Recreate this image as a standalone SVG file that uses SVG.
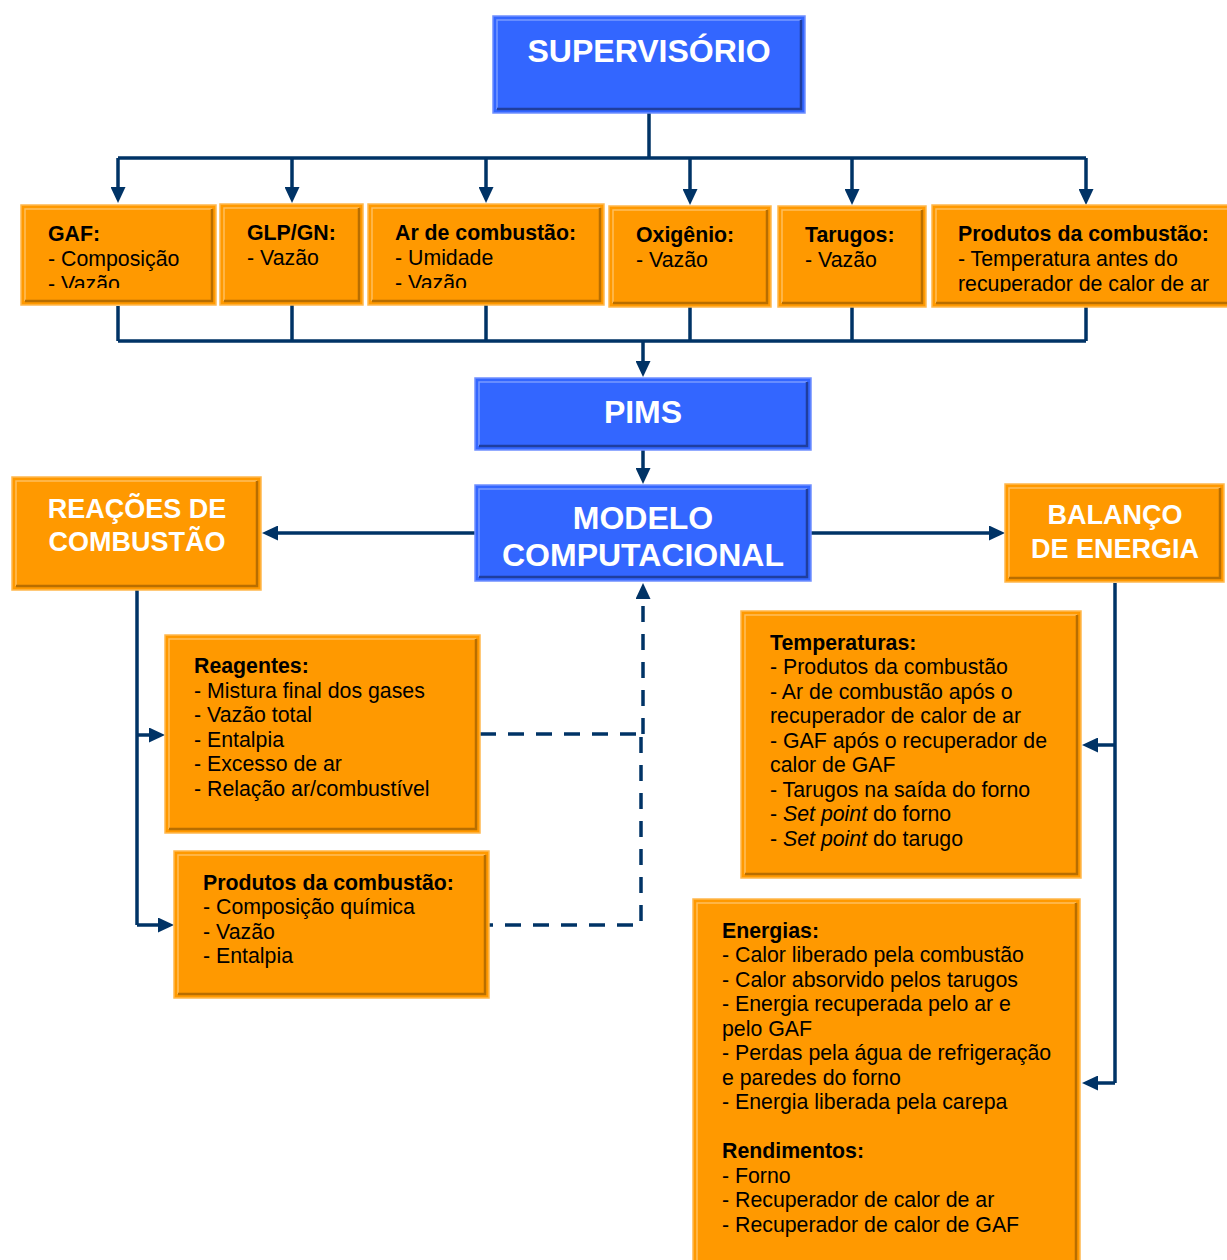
<svg xmlns="http://www.w3.org/2000/svg" width="1227" height="1260" viewBox="0 0 1227 1260">
<style>
.bg{fill:#ffffff}
.o{fill:#FF9900;stroke:#FFB84D;stroke-width:1.5}
.ol{fill:none;stroke:#FFBE5C;stroke-width:1.5}
.od{fill:none;stroke:#B86E00;stroke-width:2.5}
.u{fill:#3366FF;stroke:#7090FF;stroke-width:1.5}
.ul{fill:none;stroke:#7A9BFF;stroke-width:1.5}
.ud{fill:none;stroke:#1F3E9E;stroke-width:2.5}
.t{font-family:"Liberation Sans",Arial,Helvetica,sans-serif;font-size:21.3px;fill:#000000}
.b{font-weight:bold}
.w{font-family:"Liberation Sans",Arial,Helvetica,sans-serif;font-weight:bold;fill:#ffffff;text-anchor:middle}
.c{fill:none;stroke:#003366;stroke-width:3.5}
.d{fill:none;stroke:#003366;stroke-width:3.5;stroke-dasharray:16 12}
</style>
<defs>
<marker id="ah" markerWidth="16" markerHeight="15" refX="7" refY="7.5" orient="auto" markerUnits="userSpaceOnUse">
<path d="M0,0 L16,7.5 L0,15 z" fill="#003366"/>
</marker>
<clipPath id="clipTop"><rect x="0" y="200" width="1227" height="88"/></clipPath>
<clipPath id="clipTop2"><rect x="0" y="200" width="1227" height="92"/></clipPath>
</defs>
<rect class="bg" x="0" y="0" width="1227" height="1260"/>

<g id="connectors">
<path class="c" d="M649,113 V158 M118,158 H1086"/>
<path class="c" marker-end="url(#ah)" d="M118,158 V194"/>
<path class="c" marker-end="url(#ah)" d="M292,158 V194"/>
<path class="c" marker-end="url(#ah)" d="M486,158 V194"/>
<path class="c" marker-end="url(#ah)" d="M690,158 V196"/>
<path class="c" marker-end="url(#ah)" d="M852,158 V196"/>
<path class="c" marker-end="url(#ah)" d="M1086,158 V196"/>
<path class="c" d="M118,306 V341 M292,305 V341 M486,305 V341 M690,307 V341 M852,307 V341 M1086,307 V341 M118,341 H1086"/>
<path class="c" marker-end="url(#ah)" d="M643,341 V368"/>
<path class="c" marker-end="url(#ah)" d="M643,450 V475"/>
<path class="c" marker-end="url(#ah)" d="M475,533 H271"/>
<path class="c" marker-end="url(#ah)" d="M811,533 H996"/>
<path class="c" d="M137,590 V925"/>
<path class="c" marker-end="url(#ah)" d="M137,735 H156"/>
<path class="c" marker-end="url(#ah)" d="M137,925 H165"/>
<path class="c" d="M1115,583 V1083"/>
<path class="c" marker-end="url(#ah)" d="M1115,745 H1091"/>
<path class="c" marker-end="url(#ah)" d="M1115,1083 H1091"/>
<path class="d" d="M480,734 H641"/>
<path class="d" marker-end="url(#ah)" d="M643,734 V592"/>
<path class="d" d="M641,737 V925 H489"/>
</g>

<g id="supervisorio">
<rect class="u" x="493" y="16" width="312" height="97"/>
<polyline class="ul" points="497,109 497,20 801,20"/>
<polyline class="ud" points="801,20 801,109 497,109"/>
<text class="w" x="649" y="62" font-size="32">SUPERVISÓRIO</text>
</g>

<g id="gaf">
<rect class="o" x="21" y="205" width="195" height="100"/>
<polyline class="ol" points="25,301 25,209 212,209"/>
<polyline class="od" points="212,209 212,301 25,301"/>
<text class="t" clip-path="url(#clipTop)"><tspan class="b" x="48" y="241">GAF:</tspan><tspan x="48" y="266">- Composição</tspan><tspan x="48" y="291">- Vazão</tspan></text>
</g>

<g id="glp">
<rect class="o" x="220" y="204" width="143" height="101"/>
<polyline class="ol" points="224,301 224,208 359,208"/>
<polyline class="od" points="359,208 359,301 224,301"/>
<text class="t"><tspan class="b" x="247" y="240">GLP/GN:</tspan><tspan x="247" y="265">- Vazão</tspan></text>
</g>

<g id="ar">
<rect class="o" x="368" y="204" width="236" height="101"/>
<polyline class="ol" points="372,301 372,208 600,208"/>
<polyline class="od" points="600,208 600,301 372,301"/>
<text class="t" clip-path="url(#clipTop)"><tspan class="b" x="395" y="240">Ar de combustão:</tspan><tspan x="395" y="265">- Umidade</tspan><tspan x="395" y="290">- Vazão</tspan></text>
</g>

<g id="oxigenio">
<rect class="o" x="609" y="206" width="162" height="101"/>
<polyline class="ol" points="613,303 613,210 767,210"/>
<polyline class="od" points="767,210 767,303 613,303"/>
<text class="t"><tspan class="b" x="636" y="242">Oxigênio:</tspan><tspan x="636" y="267">- Vazão</tspan></text>
</g>

<g id="tarugos">
<rect class="o" x="778" y="206" width="148" height="101"/>
<polyline class="ol" points="782,303 782,210 922,210"/>
<polyline class="od" points="922,210 922,303 782,303"/>
<text class="t"><tspan class="b" x="805" y="242">Tarugos:</tspan><tspan x="805" y="267">- Vazão</tspan></text>
</g>

<g id="produtos-top">
<rect class="o" x="932" y="205" width="300" height="102"/>
<polyline class="ol" points="936,303 936,209 1232,209"/>
<polyline class="od" points="936,303 1232,303"/>
<text class="t" clip-path="url(#clipTop2)"><tspan class="b" x="958" y="241">Produtos da combustão:</tspan><tspan x="958" y="266">- Temperatura antes do</tspan><tspan x="958" y="291">recuperador de calor de ar</tspan></text>
</g>

<g id="pims">
<rect class="u" x="475" y="378" width="336" height="72"/>
<polyline class="ul" points="479,446 479,382 807,382"/>
<polyline class="ud" points="807,382 807,446 479,446"/>
<text class="w" x="643" y="423" font-size="32">PIMS</text>
</g>

<g id="modelo">
<rect class="u" x="475" y="485" width="336" height="96"/>
<polyline class="ul" points="479,577 479,489 807,489"/>
<polyline class="ud" points="807,489 807,577 479,577"/>
<text class="w" font-size="32"><tspan x="643" y="529">MODELO</tspan><tspan x="643" y="566">COMPUTACIONAL</tspan></text>
</g>

<g id="reacoes">
<rect class="o" x="12" y="477" width="249" height="113"/>
<polyline class="ol" points="16,586 16,481 257,481"/>
<polyline class="od" points="257,481 257,586 16,586"/>
<text class="w" font-size="27"><tspan x="137" y="518">REAÇÕES DE</tspan><tspan x="137" y="551">COMBUSTÃO</tspan></text>
</g>

<g id="balanco">
<rect class="o" x="1005" y="484" width="219" height="98"/>
<polyline class="ol" points="1009,578 1009,488 1220,488"/>
<polyline class="od" points="1220,488 1220,578 1009,578"/>
<text class="w" font-size="27"><tspan x="1115" y="524">BALANÇO</tspan><tspan x="1115" y="558">DE ENERGIA</tspan></text>
</g>

<g id="reagentes">
<rect class="o" x="165" y="635" width="315" height="198"/>
<polyline class="ol" points="169,829 169,639 476,639"/>
<polyline class="od" points="476,639 476,829 169,829"/>
<text class="t"><tspan class="b" x="194" y="673">Reagentes:</tspan><tspan x="194" y="698">- Mistura final dos gases</tspan><tspan x="194" y="722">- Vazão total</tspan><tspan x="194" y="747">- Entalpia</tspan><tspan x="194" y="771">- Excesso de ar</tspan><tspan x="194" y="796">- Relação ar/combustível</tspan></text>
</g>

<g id="produtos-comb">
<rect class="o" x="174" y="851" width="315" height="147"/>
<polyline class="ol" points="178,994 178,855 485,855"/>
<polyline class="od" points="485,855 485,994 178,994"/>
<text class="t"><tspan class="b" x="203" y="890">Produtos da combustão:</tspan><tspan x="203" y="914">- Composição química</tspan><tspan x="203" y="939">- Vazão</tspan><tspan x="203" y="963">- Entalpia</tspan></text>
</g>

<g id="temperaturas">
<rect class="o" x="741" y="611" width="340" height="267"/>
<polyline class="ol" points="745,874 745,615 1077,615"/>
<polyline class="od" points="1077,615 1077,874 745,874"/>
<text class="t"><tspan class="b" x="770" y="650">Temperaturas:</tspan><tspan x="770" y="674">- Produtos da combustão</tspan><tspan x="770" y="699">- Ar de combustão após o</tspan><tspan x="770" y="723">recuperador de calor de ar</tspan><tspan x="770" y="748">- GAF após o recuperador de</tspan><tspan x="770" y="772">calor de GAF</tspan><tspan x="770" y="797">- Tarugos na saída do forno</tspan><tspan x="770" y="821">- <tspan font-style="italic">Set point</tspan> do forno</tspan><tspan x="770" y="846">- <tspan font-style="italic">Set point</tspan> do tarugo</tspan></text>
</g>

<g id="energias">
<rect class="o" x="693" y="899" width="387" height="370"/>
<polyline class="ol" points="697,1265 697,903 1076,903"/>
<polyline class="od" points="1076,903 1076,1265"/>
<text class="t"><tspan class="b" x="722" y="938">Energias:</tspan><tspan x="722" y="962">- Calor liberado pela combustão</tspan><tspan x="722" y="987">- Calor absorvido pelos tarugos</tspan><tspan x="722" y="1011">- Energia recuperada pelo ar e</tspan><tspan x="722" y="1036">pelo GAF</tspan><tspan x="722" y="1060">- Perdas pela água de refrigeração</tspan><tspan x="722" y="1085">e paredes do forno</tspan><tspan x="722" y="1109">- Energia liberada pela carepa</tspan><tspan class="b" x="722" y="1158">Rendimentos:</tspan><tspan x="722" y="1183">- Forno</tspan><tspan x="722" y="1207">- Recuperador de calor de ar</tspan><tspan x="722" y="1232">- Recuperador de calor de GAF</tspan></text>
</g>
</svg>
